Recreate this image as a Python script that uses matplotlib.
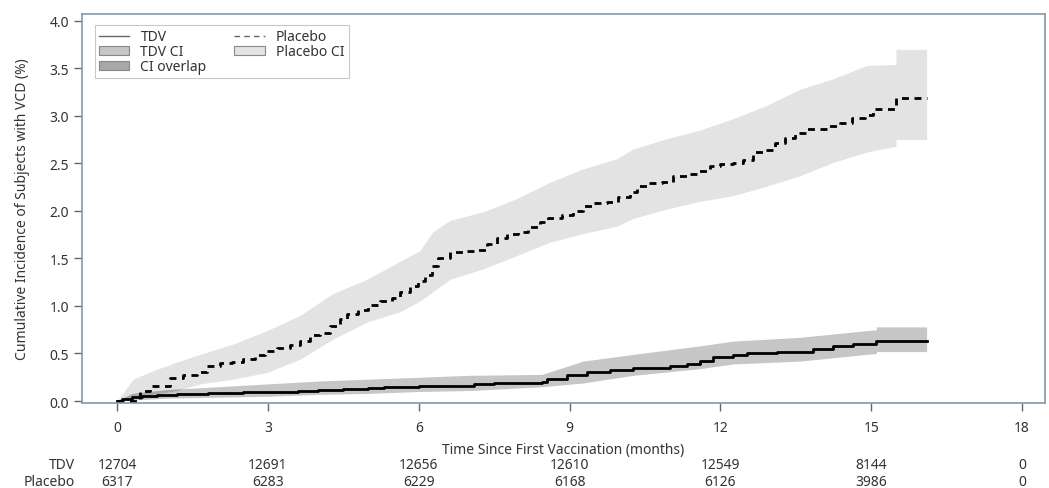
import numpy as np
import matplotlib.pyplot as plt
from matplotlib.lines import Line2D
from matplotlib.patches import Patch
from matplotlib.transforms import blended_transform_factory

# Kaplan-Meier style step curves (months, %)
plc_t = [0, 0.46, 0.66, 1.05, 1.31, 1.59, 1.79, 2.05, 2.28, 2.5, 2.74, 2.94, 3.18,
         3.44, 3.64, 3.84, 4.03, 4.23, 4.43, 4.57, 4.79, 4.99, 5.23, 5.47, 5.63,
         5.83, 5.98, 6.12, 6.26, 6.38, 6.62, 6.88, 7.16, 7.36, 7.55, 7.75, 7.97,
         8.17, 8.41, 8.57, 8.85, 9.07, 9.26, 9.46, 9.74, 9.96, 10.2, 10.34, 10.56,
         10.84, 11.05, 11.33, 11.55, 11.79, 11.99, 12.25, 12.45, 12.64, 12.88,
         13.08, 13.28, 13.48, 13.72, 14.14, 14.37, 14.61, 14.87, 15.03, 15.49, 16.1]
plc_y = [0, 0.105, 0.16, 0.24, 0.27, 0.31, 0.37, 0.40, 0.41, 0.44, 0.48, 0.53, 0.56,
         0.59, 0.63, 0.69, 0.72, 0.79, 0.86, 0.92, 0.96, 1.01, 1.05, 1.08, 1.15,
         1.21, 1.26, 1.33, 1.42, 1.50, 1.57, 1.58, 1.59, 1.65, 1.71, 1.76, 1.78,
         1.83, 1.88, 1.93, 1.96, 2.00, 2.05, 2.08, 2.09, 2.15, 2.20, 2.26, 2.29,
         2.30, 2.37, 2.39, 2.42, 2.47, 2.49, 2.50, 2.54, 2.62, 2.64,
         2.71, 2.77, 2.82, 2.86, 2.89, 2.93, 2.98, 3.01, 3.07, 3.19, 3.19]

# confidence band edges (repeated time = vertical jump)
plc_ci_t = [0, 0.32, 0.72, 1.19, 1.65, 2.31, 2.98, 3.64, 4.29, 4.97, 5.63, 6.02, 6.28,
            6.62, 7.28, 7.95, 8.6, 9.26, 9.94, 10.26, 10.93, 11.59, 12.25, 12.92,
            13.58, 14.24, 14.91, 15.49, 15.49, 16.1]
plc_lo = [0, 0.04, 0.07, 0.11, 0.18, 0.23, 0.30, 0.44, 0.65, 0.83, 0.94, 1.05, 1.15,
          1.28, 1.39, 1.53, 1.67, 1.76, 1.84, 1.92, 2.02, 2.10, 2.16, 2.26,
          2.37, 2.51, 2.62, 2.68, 2.75, 2.75]
plc_hi = [0, 0.23, 0.32, 0.41, 0.49, 0.60, 0.74, 0.90, 1.13, 1.28, 1.47, 1.58, 1.78,
          1.90, 1.99, 2.13, 2.30, 2.44, 2.55, 2.65, 2.76, 2.85, 2.97, 3.11,
          3.28, 3.39, 3.53, 3.54, 3.70, 3.70]

tdv_t = [0, 0.1, 0.3, 0.5, 0.8, 1.2, 1.8, 2.5, 3.0, 3.6, 4.0, 4.5, 5.0, 5.3, 6.0,
         7.1, 7.5, 8.45, 8.55, 8.94, 9.34, 9.8, 10.26, 10.99, 11.33, 11.59, 11.85,
         12.25, 12.52, 13.12, 13.84, 14.24, 14.63, 15.1, 16.1]
tdv_y = [0, 0.02, 0.04, 0.05, 0.06, 0.07, 0.08, 0.09, 0.10, 0.11, 0.12, 0.13, 0.14,
         0.15, 0.16, 0.18, 0.19, 0.20, 0.23, 0.27, 0.30, 0.33, 0.35, 0.37, 0.39,
         0.42, 0.46, 0.48, 0.51, 0.52, 0.55, 0.58, 0.60, 0.63, 0.63]

tdv_ci_t = [0, 0.3, 1.0, 2.0, 3.0, 4.0, 5.0, 6.0, 7.0, 8.45, 9.27, 10.26, 11.59,
            12.25, 13.58, 14.9, 15.1, 15.1, 16.1]
tdv_lo = [0, 0.01, 0.03, 0.04, 0.05, 0.07, 0.08, 0.10, 0.11, 0.15, 0.19, 0.27, 0.34,
          0.39, 0.42, 0.49, 0.50, 0.52, 0.52]
tdv_hi = [0, 0.08, 0.12, 0.15, 0.18, 0.21, 0.23, 0.25, 0.27, 0.28, 0.42, 0.49, 0.58,
          0.63, 0.67, 0.74, 0.75, 0.78, 0.78]

# number at risk
risk_months = [0, 3, 6, 9, 12, 15, 18]
risk_tdv = [12704, 12691, 12656, 12610, 12549, 8144, 0]
risk_plc = [6317, 6283, 6229, 6168, 6126, 3986, 0]

font = ['Noto Sans', 'DejaVu Sans']
txt_c = '#333333'

fig = plt.figure(figsize=(10.49, 4.89), dpi=100)
ax = fig.add_axes([0.078, 0.174, 0.918, 0.795])

c_plc, c_tdv, c_ovl = '#e3e3e3', '#c6c6c6', '#a8a8a8'

ax.fill_between(plc_ci_t, plc_lo, plc_hi, color=c_plc, lw=0)
ax.fill_between(tdv_ci_t, tdv_lo, tdv_hi, color=c_tdv, lw=0)

# overlap of the two bands
grid = np.linspace(0, 16.1, 800)
o_lo = np.maximum(np.interp(grid, plc_ci_t, plc_lo), np.interp(grid, tdv_ci_t, tdv_lo))
o_hi = np.minimum(np.interp(grid, plc_ci_t, plc_hi), np.interp(grid, tdv_ci_t, tdv_hi))
ax.fill_between(grid, o_lo, o_hi, where=o_hi > o_lo, color=c_ovl, lw=0)

ax.plot(tdv_t, tdv_y, drawstyle='steps-post', color='black', lw=2)
ax.plot(plc_t, plc_y, drawstyle='steps-post', color='black', lw=2, dashes=(2.5, 2))

ax.set_xlim(-0.7, 18.45)
ax.set_ylim(-0.02, 4.07)
ax.set_xticks(risk_months)
yt = np.arange(0, 4.01, 0.5)
ax.set_yticks(yt)
ax.set_yticklabels([f'{v:.1f}' for v in yt])

spine_c = '#8299ad'
for s in ax.spines.values():
    s.set_color(spine_c)
    s.set_linewidth(1.2)
ax.tick_params(axis='both', colors='#666666', length=6, width=1, labelcolor=txt_c,
               labelsize=10)
ax.tick_params(axis='x', pad=6)
ax.tick_params(axis='y', pad=3)
for lab in ax.get_xticklabels() + ax.get_yticklabels():
    lab.set_family(font)

ax.set_ylabel('Cumulative Incidence of Subjects with VCD (%)', fontsize=10,
              family=font, color=txt_c, labelpad=14)
ax.set_xlabel('Time Since First Vaccination (months)', fontsize=10, family=font,
              color=txt_c, labelpad=5)

tr = blended_transform_factory(ax.transData, fig.transFigure)
y_tdv, y_plc = 1 - 466 / 489, 1 - 483 / 489
for m, a, b in zip(risk_months, risk_tdv, risk_plc):
    ax.text(m, y_tdv, str(a), transform=tr, ha='center', va='center',
            fontsize=10, family=font, color=txt_c)
    ax.text(m, y_plc, str(b), transform=tr, ha='center', va='center',
            fontsize=10, family=font, color=txt_c)
fig.text(75 / 1049, y_tdv, 'TDV', ha='right', va='center', fontsize=10,
         family=font, color=txt_c)
fig.text(75 / 1049, y_plc, 'Placebo', ha='right', va='center', fontsize=10,
         family=font, color=txt_c)

handles = [Line2D([], [], color='#666666', lw=1),
           Patch(facecolor=c_tdv, edgecolor='#888888', lw=0.8),
           Patch(facecolor=c_ovl, edgecolor='#888888', lw=0.8),
           Line2D([], [], color='#666666', lw=1, dashes=(4, 3)),
           Patch(facecolor=c_plc, edgecolor='#888888', lw=0.8)]
labels = ['TDV', 'TDV CI', 'CI overlap', 'Placebo', 'Placebo CI']
leg = ax.legend(handles, labels, ncol=2, loc='upper left', bbox_to_anchor=(0.006, 0.99),
                frameon=True, fancybox=False, edgecolor='#bbbbbb',
                prop={'family': font, 'size': 10}, handlelength=2.2, handleheight=0.6,
                labelspacing=0.0, columnspacing=2.0, borderpad=0.3, handletextpad=0.8)
leg.get_frame().set_linewidth(0.8)
for t in leg.get_texts():
    t.set_color(txt_c)

fig.savefig('out.png', dpi=100)
